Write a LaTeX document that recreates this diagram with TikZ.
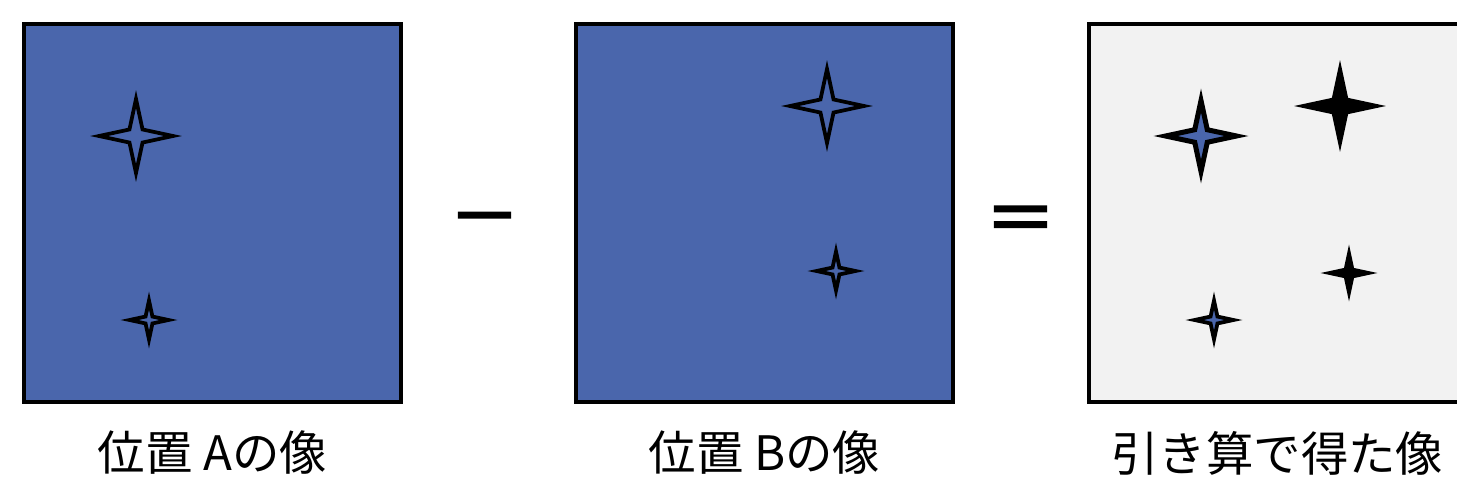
\documentclass[tikz,border=0pt]{standalone}
\usepackage{fontspec}
\newfontfamily\jpfont{Noto Sans CJK JP}
\newfontfamily\opfont[FakeBold=3]{Noto Sans CJK JP}
\usetikzlibrary{shapes.geometric}
\definecolor{panelblue}{RGB}{74,102,172}
\definecolor{resultgray}{RGB}{242,242,242}

\begin{document}
\begin{tikzpicture}[x=0.02cm, y=-0.02cm, node distance=11.04cm,
  panel/.style={draw, rectangle, line width=0.07cm, minimum width=7.54cm, minimum height=7.56cm, inner sep=0pt},
  caption/.style={font=\jpfont\fontsize{27}{31}\selectfont, inner sep=0pt},
  sign/.style={font=\opfont\fontsize{40}{44}\selectfont, inner sep=0pt},
  spark/.style={star, star points=4, star point ratio=4.0, inner sep=0pt, draw, line width=0.075cm},
  bigspark/.style={spark, minimum size=1.48cm},
  smallspark/.style={spark, minimum size=0.78cm}]
\useasboundingbox (0,0) rectangle (1457,494);
\node  (A)[panel, fill=panelblue] at (212.5,213) {};
\node  (B)[panel, fill=panelblue] [right of = A] {};
\node  (C)[panel, fill=resultgray] [node distance=10.26cm, right of = B] {};
\node  (capA)[caption] [node distance=4.8cm, below of = A] {位置 Aの像};
\node  (capB)[caption] [node distance=4.8cm, below of = B] {位置 Bの像};
\node  (capC)[caption] [node distance=4.8cm, below of = C] {引き算で得た像};
\node  (minus)[sign] at (484.5,227) {－};
\node  (equals)[sign] at (1020.5,225) {＝};
% stars, position A
\node  (a1)[bigspark] at (136,136) {};
\node  (a2)[smallspark] at (149,320) {};
% stars, position B
\node  (b1)[bigspark] at (827,106) {};
\node  (b2)[smallspark] at (836,271) {};
% difference
\node  (c1)[bigspark, fill=panelblue, line width=0.1cm, minimum size=1.42cm] at (1201,136) {};
\node  (c2)[smallspark, fill=panelblue] at (1214,320) {};
\node  (c3)[bigspark, fill=black] at (1340,106) {};
\node  (c4)[smallspark, fill=black] at (1349,273) {};
\end{tikzpicture}
\end{document}
